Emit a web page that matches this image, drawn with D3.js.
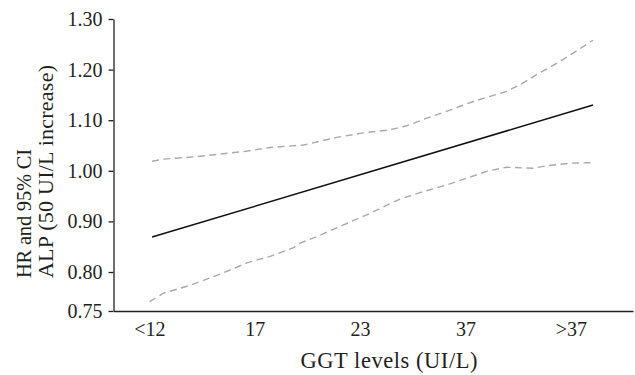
<!DOCTYPE html>
<html>
<head>
<meta charset="utf-8">
<script src="https://cdn.jsdelivr.net/npm/d3@7"></script>
<style>
  html, body { margin: 0; padding: 0; background: #fff; }
  svg { display: block; }
  text { font-family: "Liberation Serif", "Times New Roman", serif; fill: #231f20; }
</style>
</head>
<body>
<svg id="chart" width="635" height="375"></svg>
<script>
// ---- data ----
const categories = ["<12", "17", "23", "37", ">37"];
const categoryPos = [0, 1, 2, 3, 4];
const yTickValues = [0.75, 0.80, 0.90, 1.00, 1.10, 1.20, 1.30];

// HR (solid line): position along GGT axis, value
const hrX = [0.026, 4.211];
const hrY = [0.869, 1.130];

// upper 95% CI
const upperX = [0.026, 0.136, 0.452, 0.894, 1.147, 1.463, 1.779, 2.031, 2.284, 2.443, 2.632, 2.853, 3.074, 3.232, 3.391, 3.517, 3.675, 3.896, 4.085, 4.211];
const upperY = [1.019, 1.023, 1.028, 1.038, 1.046, 1.051, 1.066, 1.075, 1.081, 1.089, 1.104, 1.120, 1.137, 1.147, 1.157, 1.170, 1.190, 1.216, 1.241, 1.258];

// lower 95% CI
const lowerX = [0.003, 0.136, 0.389, 0.704, 0.926, 1.147, 1.368, 1.431, 1.590, 1.842, 2.095, 2.284, 2.379, 2.569, 2.822, 3.106, 3.201, 3.391, 3.643, 3.770, 3.991, 4.211];
const lowerY = [0.762, 0.773, 0.783, 0.799, 0.818, 0.831, 0.848, 0.857, 0.870, 0.893, 0.916, 0.935, 0.944, 0.957, 0.972, 0.992, 0.999, 1.007, 1.005, 1.010, 1.015, 1.016];

const xTitle = "GGT levels (UI/L)";
const yTitle1 = "HR and 95% CI";
const yTitle2 = "ALP (50 UI/L increase)";

// ---- layout ----
const svg = d3.select("#chart");
const plotLeft = 113.5, plotRight = 633, plotTop = 19, plotBottom = 311;

const x = d3.scaleLinear().domain([-0.34, 4.59]).range([plotLeft, plotRight]);
// axis break near the bottom: 0.75 placed at the origin
const y = d3.scaleLinear().domain([0.75, 0.80, 1.30]).range([plotBottom, 272, plotTop]);

// y axis
const yAxis = d3.axisLeft(y)
  .tickValues(yTickValues)
  .tickFormat(d3.format(".2f"))
  .tickSize(5)
  .tickSizeOuter(0)
  .tickPadding(6);
const gy = svg.append("g").attr("transform", `translate(${plotLeft},0)`).call(yAxis);
gy.selectAll("text").style("font-size", "20px").attr("fill", "#231f20");
gy.selectAll("line, path").attr("stroke", "#231f20").attr("stroke-width", 1.3);

// x axis
const xAxis = d3.axisBottom(x)
  .tickValues(categoryPos)
  .tickFormat((d, i) => categories[i])
  .tickSize(0)
  .tickSizeOuter(0)
  .tickPadding(11);
const gx = svg.append("g").attr("transform", `translate(0,${plotBottom})`).call(xAxis);
gx.selectAll("text").style("font-size", "20px").attr("fill", "#231f20");
gx.selectAll("line, path").attr("stroke", "#231f20").attr("stroke-width", 1.6);

// lines
const line = d3.line().x(d => x(d[0])).y(d => y(d[1]));
const zip = (a, b) => a.map((v, i) => [v, b[i]]);

svg.append("path")
  .attr("d", line(zip(upperX, upperY)))
  .attr("fill", "none").attr("stroke", "#a9a9a9")
  .attr("stroke-width", 1.4).attr("stroke-dasharray", "7,4.5");
svg.append("path")
  .attr("d", line(zip(lowerX, lowerY)))
  .attr("fill", "none").attr("stroke", "#a9a9a9")
  .attr("stroke-width", 1.4).attr("stroke-dasharray", "7,4.5");
svg.append("path")
  .attr("d", line(zip(hrX, hrY)))
  .attr("fill", "none").attr("stroke", "#111")
  .attr("stroke-width", 1.5);

// titles
svg.append("text")
  .attr("x", 389).attr("y", 368)
  .attr("text-anchor", "middle")
  .attr("textLength", 177).attr("lengthAdjust", "spacing")
  .style("font-size", "22.5px")
  .text(xTitle);

const yt = svg.append("g").attr("transform", "translate(0,278) rotate(-90)");
yt.append("text").attr("x", 0).attr("y", 31).attr("text-anchor", "start")
  .attr("textLength", 129).attr("lengthAdjust", "spacing")
  .style("font-size", "20.5px").text(yTitle1);
yt.append("text").attr("x", 0).attr("y", 53).attr("text-anchor", "start")
  .attr("textLength", 213).attr("lengthAdjust", "spacing")
  .style("font-size", "22px").text(yTitle2);
</script>
</body>
</html>
